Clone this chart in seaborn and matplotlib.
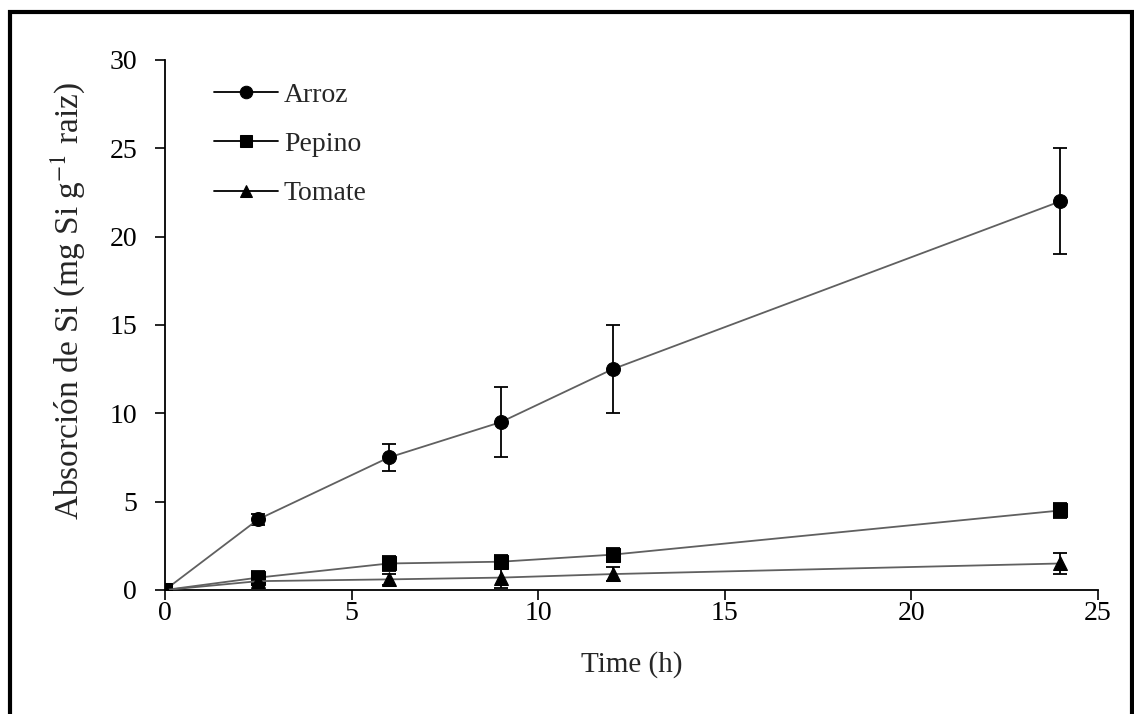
import matplotlib
matplotlib.use("Agg")
import matplotlib.pyplot as plt
import seaborn as sns
import pandas as pd
from matplotlib.patches import Rectangle

# Data
time_h = [0, 2.5, 6, 9, 12, 24]
arroz = [0, 4.0, 7.5, 9.5, 12.5, 22.0]
arroz_err = [0.2, 0.3, 0.75, 2.0, 2.5, 3.0]
pepino = [0, 0.7, 1.5, 1.6, 2.0, 4.5]
pepino_err = [0.2, 0.4, 0.4, 0.4, 0.4, 0.4]
tomate = [0, 0.5, 0.6, 0.7, 0.9, 1.5]
tomate_err = [0.1, 0.2, 0.3, 0.6, 0.4, 0.6]

series = [("Arroz", arroz, arroz_err, "o"),
          ("Pepino", pepino, pepino_err, "s"),
          ("Tomate", tomate, tomate_err, "^")]

sns.set_style("ticks")
plt.rcParams["font.family"] = ["Liberation Serif", "DejaVu Serif"]
plt.rcParams["mathtext.fontset"] = "stix"

fig = plt.figure(figsize=(11.34, 7.14), dpi=100)
ax = fig.add_axes([0.1455, 0.1737, 0.8225, 0.7423])

for name, vals, errs, mk in series:
    df = pd.DataFrame({"t": time_h, "v": vals})
    ax.errorbar(time_h, vals, yerr=errs, fmt="none", ecolor="black",
                elinewidth=1.3, capsize=5, capthick=1.3, zorder=3)
    sns.lineplot(data=df, x="t", y="v", ax=ax, color="#606060", linewidth=1.3,
                 marker=mk, markersize=10, markerfacecolor="black",
                 markeredgecolor="black", label=name, zorder=4)

ax.set_xlim(0, 25)
ax.set_ylim(0, 30)
ax.set_xticks([0, 5, 10, 15, 20, 25])
ax.set_yticks([0, 5, 10, 15, 20, 25, 30])
ax.tick_params(axis="both", labelsize=20, direction="out", length=7,
               width=1.2, color="black", labelcolor="black")
ax.tick_params(axis="x", pad=1)
ax.tick_params(axis="y", pad=13)
for s in ["left", "bottom"]:
    ax.spines[s].set_linewidth(1.3)
    ax.spines[s].set_color("black")
sns.despine(ax=ax)

ax.set_xlabel("Time (h)", fontsize=21, labelpad=18)
ax.set_ylabel("Absorción de Si (mg Si g$^{-1}$ raiz)", fontsize=24)
ax.yaxis.set_label_coords(-0.084, 0.545)

leg = ax.legend(loc="upper left", bbox_to_anchor=(0.053, 0.958), frameon=False,
                fontsize=20, handlelength=2.3, handletextpad=0.2,
                labelspacing=0.86, borderaxespad=0, borderpad=0)
for h in leg.legend_handles:
    h.set_color("black")
    h.set_markersize(9)

fig.patches.append(Rectangle((0.009, -0.01), 0.9895, 0.993, transform=fig.transFigure,
                             fill=False, edgecolor="black", linewidth=3))

fig.savefig("out.png", dpi=100)
